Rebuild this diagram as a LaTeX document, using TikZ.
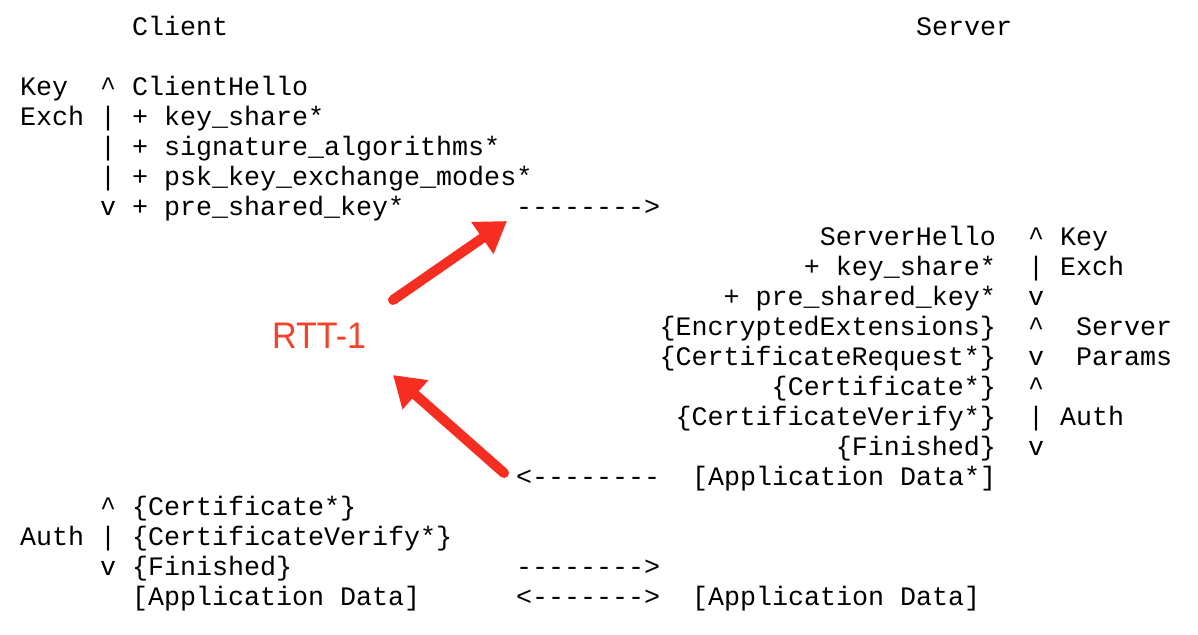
\documentclass[tikz,border=0pt]{standalone}
\usepackage{fontspec}
\setmainfont{Liberation Sans}
\setmonofont{Liberation Mono}
\usetikzlibrary{arrows.meta}
\definecolor{rttred}{RGB}{243,66,40}
\definecolor{arrred}{RGB}{246,46,34}
\tikzset{msg/.style={anchor=base west,inner sep=0pt,font=\ttfamily\fontsize{26.67}{30}\selectfont},
  rmsg/.style={msg,anchor=base east},
  redarrow/.style={draw=arrred,line width=10pt,line cap=round,-{Triangle[length=30pt,width=37pt]}}}
\begin{document}
\begin{tikzpicture}[x=1pt,y=-1pt]
\useasboundingbox (0,0) rectangle (1198,634);
\node[msg] (client) at (132,35.5) {Client};\node[msg] (server) at (916,35.5) {Server};
%
\node[msg] (ckey) at (20,95.5) {Key};\node[msg] (cup1) at (100,95.5) {\textasciicircum};\node[msg] (chello) at (132,95.5) {ClientHello};
\node[msg] (cexch) at (20,125.5) {Exch};\node[msg] (cbar1) at (100,125.5) {|};\node[msg] (cks) at (132,125.5) {+ key\_share*};
\node[msg] (cbar2) at (100,155.5) {|};\node[msg] (csig) at (132,155.5) {+ signature\_algorithms*};
\node[msg] (cbar3) at (100,185.5) {|};\node[msg] (cpsk) at (132,185.5) {+ psk\_key\_exchange\_modes*};
\node[msg] (cdn1) at (100,215.5) {v};\node[msg] (cpre) at (132,215.5) {+ pre\_shared\_key*};\node[msg] (fly1) at (516,215.5) {-------->};
%
\node[rmsg] (shello) at (996,245.5) {ServerHello};\node[msg] (sup1) at (1028,245.5) {\textasciicircum};\node[msg] (skey) at (1060,245.5) {Key};
\node[rmsg] (sks) at (996,275.5) {+ key\_share*};\node[msg] (sbar1) at (1028,275.5) {|};\node[msg] (sexch) at (1060,275.5) {Exch};
\node[rmsg] (spre) at (996,305.5) {+ pre\_shared\_key*};\node[msg] (sdn1) at (1028,305.5) {v};
\node[rmsg] (sext) at (996,335.5) {\{EncryptedExtensions\}};\node[msg] (sup2) at (1028,335.5) {\textasciicircum};\node[msg] (sserv) at (1076,335.5) {Server};
\node[rmsg] (sreq) at (996,365.5) {\{CertificateRequest*\}};\node[msg] (sdn2) at (1028,365.5) {v};\node[msg] (sparams) at (1076,365.5) {Params};
\node[rmsg] (scert) at (996,395.5) {\{Certificate*\}};\node[msg] (sup3) at (1028,395.5) {\textasciicircum};
\node[rmsg] (sver) at (996,425.5) {\{CertificateVerify*\}};\node[msg] (sbar2) at (1028,425.5) {|};\node[msg] (sauth) at (1060,425.5) {Auth};
\node[rmsg] (sfin) at (996,455.5) {\{Finished\}};\node[msg] (sdn3) at (1028,455.5) {v};
\node[msg] (back1) at (516,485.5) {<--------};\node[msg] (sdata1) at (692,485.5) {[Application Data*]};
%
\node[msg] (cup2) at (100,515.5) {\textasciicircum};\node[msg] (ccert) at (132,515.5) {\{Certificate*\}};
\node[msg] (cauth) at (20,545.5) {Auth};\node[msg] (cbar4) at (100,545.5) {|};\node[msg] (cver) at (132,545.5) {\{CertificateVerify*\}};
\node[msg] (cdn2) at (100,575.5) {v};\node[msg] (cfin) at (132,575.5) {\{Finished\}};\node[msg] (fly2) at (516,575.5) {-------->};
\node[msg] (cdata) at (132,605.5) {[Application Data]};\node[msg] (both) at (516,605.5) {<------->};\node[msg] (sdata2) at (692,605.5) {[Application Data]};
%
\node[anchor=base west,inner sep=0pt,xscale=0.92,text=rttred,font=\fontsize{37}{40}\selectfont] (rtt) at (272,348.3) {RTT-1};
\coordinate (a1s) at (393,300);\coordinate (a1e) at (507,221);
\coordinate (a2s) at (504,473);\coordinate (a2e) at (393,375);
\draw[redarrow] (a1s) -- (a1e);
\draw[redarrow] (a2s) -- (a2e);
\end{tikzpicture}
\end{document}
